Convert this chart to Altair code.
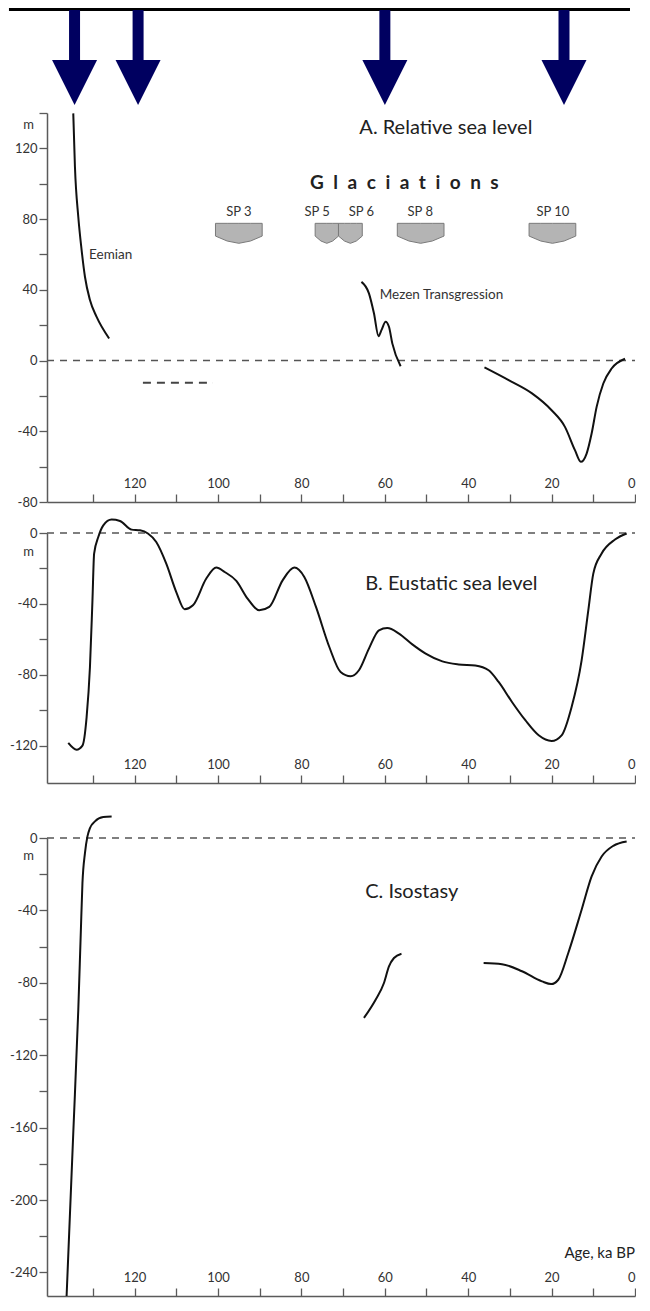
import altair as alt
import pandas as pd

FONT = "Lato"
AXIS_COLOR = "#5a5a5a"
LABEL_COLOR = "#333333"
TEXT_COLOR = "#222222"
LINE_COLOR = "#111111"
ARROW_COLOR = "#000060"
SHIELD_FILL = "#b4b4b4"
SHIELD_STROKE = "#7a7a7a"

# ---------------- data ----------------
x_ticks = [130, 120, 110, 100, 90, 80, 70, 60, 50, 40, 30, 20, 10, 0]

arrow_ka = [135.5, 120.0, 59.8, 16.1]
topline_ka = [151.5, 0]

# Panel A: relative sea level
eemian_ka = [134.7, 134.3, 133.5, 132.7, 131.9, 130.7, 129.1, 126.1]
eemian_m = [139.8, 109.6, 81.3, 62.5, 47.4, 34.2, 24.7, 12.5]
mezen_ka = [65.6, 63.8, 62.6, 61.5, 60.8, 59.8, 59.0, 58.2, 56.2]
mezen_m = [44.5, 38.0, 26.7, 13.8, 17.2, 21.9, 19.1, 9.7, -3.2]
late_ka = [36.1, 30.3, 24.7, 20.0, 16.8, 14.4, 13.0, 11.6, 10.4, 9.2, 7.6, 5.6, 2.4]
late_m = [-3.9, -11.1, -18.6, -28.1, -37.5, -50.7, -57.3, -52.6, -41.3, -26.2, -13.0, -4.5, 1.0]
dash_seg_ka = [118.0, 101.2]
dash_seg_m = -12.6

sp_names = ["SP 3", "SP 5", "SP 6", "SP 8", "SP 10"]
sp_left = [100.6, 76.7, 71.1, 57.0, 25.4]
sp_right = [89.4, 71.1, 65.4, 45.8, 14.2]
sp_label_ka = [95.0, 76.2, 65.6, 51.5, 19.7]
sp_label_m = 81.7
sp_top_m = 77.6
sp_side_m = 70.4
sp_quarter_m = 67.6
sp_point_m = 66.3

# Panel B: eustatic sea level
eust_ka = [135.9, 133.9, 132.5, 131.5, 130.7, 130.1, 129.7, 128.7, 127.5, 125.5, 123.5,
           120.7, 118.7, 116.8, 114.8, 112.4, 110.0, 108.0, 106.0, 102.8, 100.4, 98.4,
           95.6, 92.9, 90.1, 87.7, 84.5, 81.7, 79.3, 76.5, 73.3, 70.6, 68.2, 66.2, 63.8,
           61.4, 59.4, 56.6, 53.4, 50.2, 46.2, 42.3, 38.3, 35.1, 32.7, 29.5, 26.3, 23.1,
           20.0, 17.6, 15.2, 12.8, 11.2, 10.0, 8.0, 4.8, 2.0]
eust_m = [-118.4, -122.2, -119.9, -103.8, -75.6, -38.0, -11.6, -2.3, 4.3, 7.6, 6.8,
          1.9, 1.5, -0.3, -5.1, -17.3, -33.3, -43.0, -40.8, -25.7, -19.5, -22.0,
          -27.0, -37.0, -43.6, -41.7, -26.7, -19.5, -24.8, -41.7, -64.3, -78.4, -80.8, -77.4, -65.2,
          -54.9, -53.6, -56.7, -62.8, -68.0, -72.4, -74.1, -74.7, -77.4, -84.0, -95.3, -105.6, -114.1,
          -117.3, -114.1, -98.1, -71.8, -43.7, -22.9, -11.6, -3.7, -0.3]

# Panel C: isostasy
iso1_ka = [125.5, 127.5, 129.5, 130.7, 131.3, 131.9, 132.5, 132.9, 133.5, 134.7, 136.3]
iso1_m = [11.9, 11.6, 9.2, 5.5, 0.9, -8.3, -24.9, -52.5, -95.0, -163.0, -253.0]
iso2_ka = [65.0, 62.2, 60.2, 59.0, 57.8, 56.0]
iso2_m = [-99.4, -89.3, -80.1, -70.9, -66.3, -63.9]
iso3_ka = [36.3, 31.9, 27.1, 22.3, 20.1, 18.4, 16.0, 12.8, 10.4, 8.0, 5.2, 2.0]
iso3_m = [-69.1, -69.7, -73.6, -79.2, -80.7, -78.3, -63.5, -39.6, -21.2, -10.2, -4.3, -1.9]

# ---------------- layout ----------------
W = 588
H_ARROW = 105
H_A = 389
GAP_AB = 31
H_B = 250
GAP_BC = 55
C_BOTTOM = -253
H_C = 458
X_DOMAIN = [141, 0]


def x_axis(h):
    return alt.Axis(orient="top", offset=-h, values=x_ticks,
                    labelExpr="datum.value % 20 == 0 ? toString(datum.value) : ''",
                    tickSize=8, tickWidth=1.3, tickColor=AXIS_COLOR,
                    domainColor=AXIS_COLOR, domainWidth=1.5,
                    labelFont=FONT, labelFontSize=13, labelColor=LABEL_COLOR,
                    labelPadding=4, labelOverlap=False, labelFlush=True,
                    grid=False, title=None)


def y_axis(values, title_y):
    return alt.Axis(values=values,
                    labelExpr="datum.value % 40 == 0 ? toString(datum.value) : ''",
                    tickSize=8, tickWidth=1.3, tickColor=AXIS_COLOR,
                    domainColor=AXIS_COLOR, domainWidth=1.5,
                    labelFont=FONT, labelFontSize=13, labelColor=LABEL_COLOR,
                    labelPadding=2, labelOverlap=False, grid=False,
                    title="m", titleAngle=0, titleX=-19, titleY=title_y,
                    titleAlign="center", titleBaseline="middle",
                    titleFont=FONT, titleFontSize=13, titleFontWeight="normal",
                    titleColor=LABEL_COLOR)


def encs(h, ydomain, yvalues, title_y):
    X = alt.X("ka:Q", scale=alt.Scale(domain=X_DOMAIN, nice=False, zero=False), axis=x_axis(h))
    Y = alt.Y("m:Q", scale=alt.Scale(domain=ydomain, nice=False, zero=False),
              axis=y_axis(yvalues, title_y))
    return X, Y


def curve(ka, m, X, Y):
    df = pd.DataFrame({"ka": ka, "m": m})
    return alt.Chart(df).mark_line(color=LINE_COLOR, strokeWidth=2, interpolate="monotone").encode(x=X, y=Y)


def zero_line(X, Y):
    df = pd.DataFrame({"ka": [X_DOMAIN[0]], "ka2": [X_DOMAIN[1]], "m": [0]})
    return alt.Chart(df).mark_rule(color="#555555", strokeWidth=1.5, strokeDash=[7, 6]).encode(
        x=X, x2=alt.X2("ka2:Q"), y=Y)


def texts(labels, ka, m, X, Y, size, align="left", weight="normal", color=TEXT_COLOR):
    df = pd.DataFrame({"label": labels, "ka": ka, "m": m})
    return alt.Chart(df).mark_text(font=FONT, fontSize=size, align=align, baseline="alphabetic",
                                   fontWeight=weight, color=color).encode(x=X, y=Y, text="label:N")


# ---------------- arrows panel ----------------
Xa = alt.X("ka:Q", scale=alt.Scale(domain=X_DOMAIN, nice=False, zero=False), axis=None)
Ya = alt.Y("y:Q", scale=alt.Scale(domain=[0, H_ARROW], nice=False, zero=False, reverse=True), axis=None)
topline_df = pd.DataFrame({"ka": [topline_ka[0]], "ka2": [topline_ka[1]], "y": [0.0], "y2": [3.0]})
shaft_df = pd.DataFrame({"ka": arrow_ka, "y": [2] * len(arrow_ka), "y2": [54] * len(arrow_ka)})
head_df = pd.DataFrame({"ka": arrow_ka, "y": [74.5] * len(arrow_ka)})

arrows = alt.layer(
    alt.Chart(topline_df).mark_rect(color="#000000").encode(
        x=Xa, x2=alt.X2("ka2:Q"), y=Ya, y2=alt.Y2("y2:Q")),
    alt.Chart(shaft_df).mark_bar(color=ARROW_COLOR, size=11, orient="vertical").encode(
        x=Xa, y=Ya, y2=alt.Y2("y2:Q")),
    alt.Chart(head_df).mark_point(shape="M-1,-1L1,-1L0,1Z", size=45 * 45, filled=True,
                                  color=ARROW_COLOR, opacity=1, strokeWidth=0).encode(x=Xa, y=Ya),
).properties(width=W, height=H_ARROW)

# ---------------- panel A ----------------
XA, YA = encs(H_A, [-80, 140], list(range(-80, 141, 20)), 11)

shield_rows = []
for name, l, r in zip(sp_names, sp_left, sp_right):
    c = (l + r) / 2
    shield_rows += [(name, l, sp_top_m, sp_side_m),
                    (name, (l + c) / 2, sp_top_m, sp_quarter_m),
                    (name, c, sp_top_m, sp_point_m),
                    (name, (c + r) / 2, sp_top_m, sp_quarter_m),
                    (name, r, sp_top_m, sp_side_m)]
shield_df = pd.DataFrame(shield_rows, columns=["name", "ka", "m", "m2"])
seg_df = pd.DataFrame({"ka": [dash_seg_ka[0]], "ka2": [dash_seg_ka[1]], "m": [dash_seg_m]})

panel_a = alt.layer(
    zero_line(XA, YA),
    alt.Chart(seg_df).mark_rule(color="#444444", strokeWidth=2, strokeDash=[8, 6]).encode(
        x=XA, x2=alt.X2("ka2:Q"), y=YA),
    curve(eemian_ka, eemian_m, XA, YA),
    curve(mezen_ka, mezen_m, XA, YA),
    curve(late_ka, late_m, XA, YA),
    alt.Chart(shield_df).mark_area(fill=SHIELD_FILL, stroke=SHIELD_STROKE, strokeWidth=1,
                                   orient="vertical").encode(
        x=XA, y=YA, y2=alt.Y2("m2:Q"), detail="name:N"),
    texts(sp_names, sp_label_ka, [sp_label_m] * len(sp_names), XA, YA, 13, align="center", color=LABEL_COLOR),
    texts(["A. Relative sea level"], [66.1], [128.3], XA, YA, 20),
    texts(["G\u2002l\u2002a\u2002c\u2002i\u2002a\u2002t\u2002i\u2002o\u2002n\u2002s"], [55.3], [96.8], XA, YA, 19,
          align="center", weight="bold"),
    texts(["Eemian"], [130.9], [57.2], XA, YA, 13.5, color=LABEL_COLOR),
    texts(["Mezen Transgression"], [61.2], [34.6], XA, YA, 13.5, color=LABEL_COLOR),
).properties(width=W, height=H_A)

# ---------------- panel B ----------------
XB, YB = encs(H_B, [-141, 0], list(range(-120, 1, 20)), 18)
panel_b = alt.layer(
    zero_line(XB, YB),
    curve(eust_ka, eust_m, XB, YB),
    texts(["B. Eustatic sea level"], [64.7], [-32.3], XB, YB, 20),
).properties(width=W, height=H_B)

# ---------------- panel C ----------------
XC, YC = encs(H_C, [C_BOTTOM, 0], list(range(-240, 1, 20)), 17)
panel_c = alt.layer(
    zero_line(XC, YC),
    curve(iso1_ka, iso1_m, XC, YC),
    curve(iso2_ka, iso2_m, XC, YC),
    curve(iso3_ka, iso3_m, XC, YC),
    texts(["C. Isostasy"], [64.7], [-33.1], XC, YC, 20),
    texts(["Age, ka BP"], [0], [-232.0], XC, YC, 15, align="right"),
).properties(width=W, height=H_C)


def spacer(h):
    return alt.Chart(pd.DataFrame({"v": [0]})).mark_point(opacity=0).properties(width=W, height=h)


chart = alt.vconcat(
    arrows, panel_a, spacer(GAP_AB), panel_b, spacer(GAP_BC), panel_c,
    spacing=0, bounds="flush",
).properties(
    padding={"left": 0, "top": 0, "right": 0, "bottom": 0},
).configure_view(stroke=None)

chart.save("out.html", embed_options={"renderer": "svg", "actions": False})
